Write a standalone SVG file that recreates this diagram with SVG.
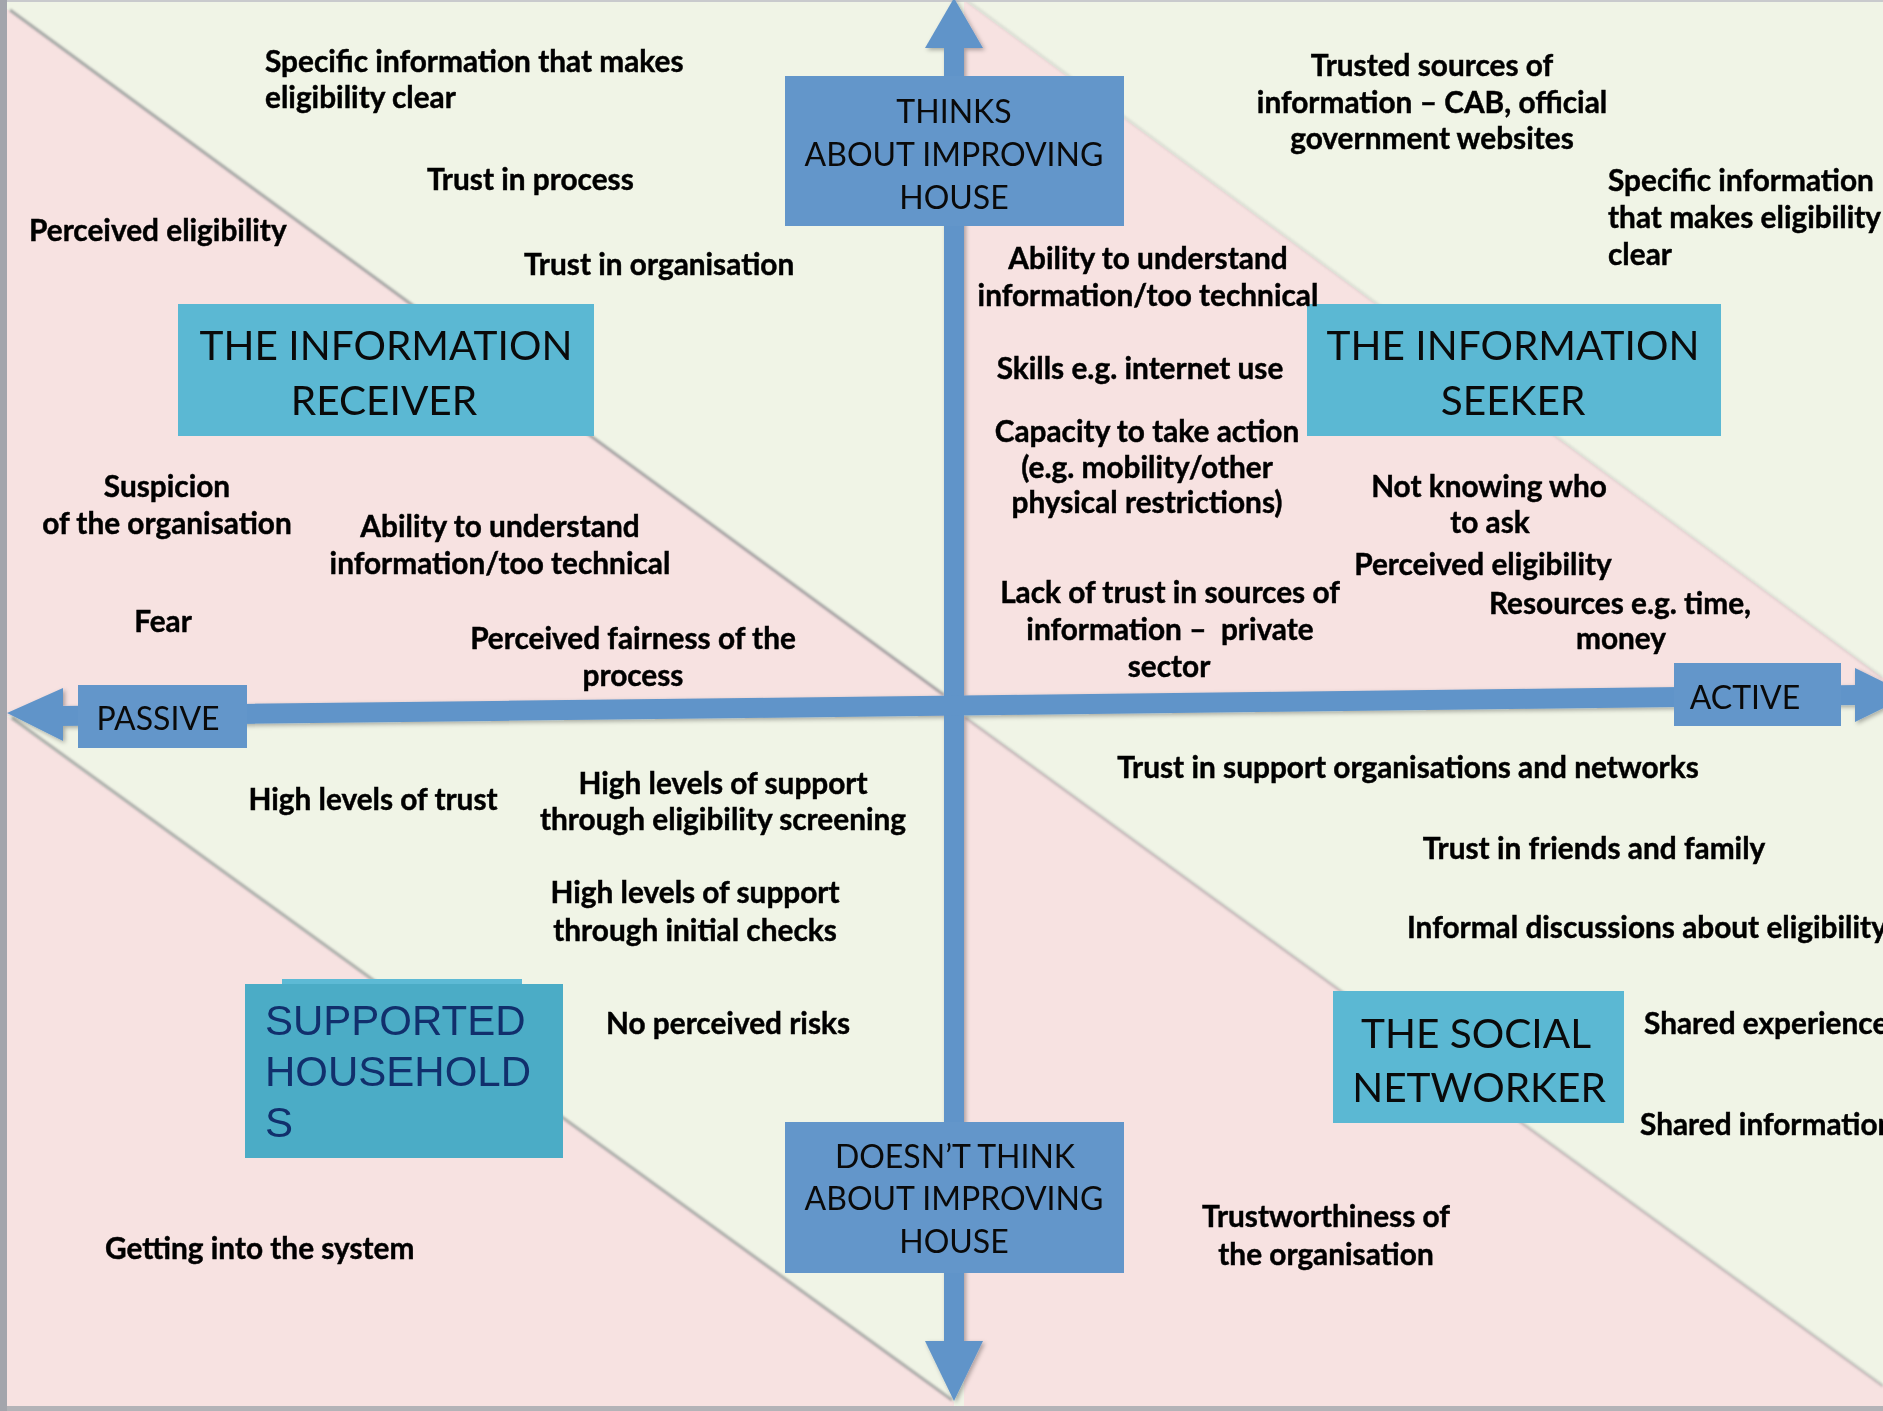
<svg xmlns="http://www.w3.org/2000/svg" width="1883" height="1411" viewBox="0 0 1883 1411">
  <defs>
    <style>
      .bg-cream { fill: #F0F4E6; }
      .bg-pink { fill: #F7E2E1; }
      .diag { stroke: #8E8E90; stroke-width: 3; fill: none; }
      .axis { fill: #6094C9; stroke: none; }
      .axis-line { stroke: #6094C9; stroke-width: 20; fill: none; }
      .box-blue { fill: #6396CA; }
      .box-teal { fill: #5BB8D3; }
      .box-teal2 { fill: #4BACC6; }
      .box-teal3 { fill: #5DBAD5; }
      .lbl { font-family: Lato, "Liberation Sans", sans-serif; font-weight: 700; font-size: 29.8px; fill: #000; stroke: #000; stroke-width: 0.45px; }
      .c { text-anchor: middle; }
      .axis-title { font-family: Lato, "Liberation Sans", sans-serif; font-size: 32px; fill: #0A0A0A; text-anchor: middle; }
      .persona { font-family: Lato, "Liberation Sans", sans-serif; font-size: 40.6px; fill: #0A0A0A; text-anchor: middle; }
      .supported { font-family: "Liberation Sans", Arial, sans-serif; font-size: 42px; fill: #112F6C; }
    </style>
    <filter id="shadow" x="-5%" y="-5%" width="110%" height="110%">
      <feDropShadow dx="2" dy="2" stdDeviation="2" flood-color="#000" flood-opacity="0.3"/>
    </filter>
    <filter id="soft" x="-5%" y="-5%" width="110%" height="110%">
      <feGaussianBlur stdDeviation="0.8"/>
    </filter>
  </defs>

  <!-- background -->
  <g id="background">
    <rect x="0" y="0" width="1883" height="1411" class="bg-cream"/>
    <polygon class="bg-pink" points="7,9 946,696 946,716 7,716"/>
    <polygon class="bg-pink" points="964,0 1883,678 1883,702 964,710"/>
    <polygon class="bg-pink" points="7,716 954,1402 954,1406 7,1406"/>
    <polygon class="bg-pink" points="964,716 1883,1386 1883,1406 964,1406"/>
    <g filter="url(#soft)">
      <line class="diag" x1="10" y1="10" x2="944" y2="695" opacity="0.75"/>
      <line class="diag" x1="966" y1="0" x2="1883" y2="678" opacity="0.2"/>
      <line class="diag" x1="12" y1="718" x2="952" y2="1400" opacity="0.7"/>
      <line class="diag" x1="966" y1="718" x2="1883" y2="1386" opacity="0.45"/>
    </g>
    <rect x="0" y="0" width="7" height="1411" fill="#A3A5AC"/>
    <rect x="7" y="0" width="1876" height="2" fill="#C9CACD"/>
    <rect x="7" y="1406" width="1876" height="5" fill="#B3B3B7"/>
  </g>

  <!-- connectors: axes -->
  <g id="connectors" filter="url(#shadow)">
    <line class="axis-line" x1="954" y1="40" x2="954" y2="1345"/>
    <polygon class="axis" points="954,-2 983,48 925,48"/>
    <polygon class="axis" points="925,1341 983,1341 954,1401"/>
    <line class="axis-line" x1="60" y1="716" x2="1858" y2="695"/>
    <polygon class="axis" points="7,713 63,688 63,741"/>
    <polygon class="axis" points="1855,668 1910,695 1855,722"/>
  </g>

  <!-- axis nodes -->
  <g id="node-thinks">
    <rect class="box-blue" x="785" y="76" width="339" height="150"/>
    <text class="axis-title" x="954" y="123">THINKS</text>
    <text class="axis-title" x="954" y="166">ABOUT IMPROVING</text>
    <text class="axis-title" x="954" y="209">HOUSE</text>
  </g>
  <g id="node-doesnt-think">
    <rect class="box-blue" x="785" y="1122" width="339" height="151"/>
    <text class="axis-title" x="955" y="1168">DOESN’T THINK</text>
    <text class="axis-title" x="954" y="1210">ABOUT IMPROVING</text>
    <text class="axis-title" x="954" y="1253">HOUSE</text>
  </g>
  <g id="node-passive">
    <rect class="box-blue" x="78" y="685" width="169" height="63"/>
    <text class="axis-title" x="158" y="730">PASSIVE</text>
  </g>
  <g id="node-active">
    <rect class="box-blue" x="1674" y="663" width="167" height="63"/>
    <text class="axis-title" x="1745" y="709">ACTIVE</text>
  </g>

  <!-- persona nodes -->
  <g id="node-information-receiver">
    <rect class="box-teal" x="178" y="304" width="416" height="132"/>
    <text class="persona" x="386" y="360">THE INFORMATION</text>
    <text class="persona" x="384" y="415">RECEIVER</text>
  </g>
  <g id="node-information-seeker">
    <rect class="box-teal" x="1307" y="304" width="414" height="132"/>
    <text class="persona" x="1513" y="360">THE INFORMATION</text>
    <text class="persona" x="1513" y="415">SEEKER</text>
  </g>
  <g id="node-supported-households">
    <rect class="box-teal3" x="282" y="979" width="240" height="6"/>
    <rect class="box-teal2" x="245" y="984" width="318" height="174"/>
    <text class="supported" x="265" y="1035">SUPPORTED</text>
    <text class="supported" x="265" y="1086">HOUSEHOLD</text>
    <text class="supported" x="265" y="1137">S</text>
  </g>
  <g id="node-social-networker">
    <rect class="box-teal" x="1333" y="991" width="291" height="132"/>
    <text class="persona" x="1476" y="1048">THE SOCIAL</text>
    <text class="persona" x="1479" y="1102">NETWORKER</text>
  </g>

  <!-- top-left quadrant labels -->
  <g id="labels-top-left" transform="translate(0,2)">
    <text class="lbl" x="265" y="70">Specific information that makes</text>
    <text class="lbl" x="265" y="106">eligibility clear</text>
    <text class="lbl" x="427" y="188">Trust in process</text>
    <text class="lbl" x="29" y="239">Perceived eligibility</text>
    <text class="lbl" x="524" y="273">Trust in organisation</text>
    <text class="lbl c" x="167" y="495">Suspicion</text>
    <text class="lbl c" x="167" y="532">of the organisation</text>
    <text class="lbl c" x="500" y="535">Ability to understand</text>
    <text class="lbl c" x="500" y="572">information/too technical</text>
    <text class="lbl c" x="163" y="630">Fear</text>
    <text class="lbl c" x="633" y="647">Perceived fairness of the</text>
    <text class="lbl c" x="633" y="684">process</text>
  </g>

  <!-- top-right quadrant labels -->
  <g id="labels-top-right" transform="translate(0,2)">
    <text class="lbl c" x="1432" y="74">Trusted sources of</text>
    <text class="lbl c" x="1432" y="111">information – CAB, official</text>
    <text class="lbl c" x="1432" y="147">government websites</text>
    <text class="lbl" x="1608" y="189">Specific information</text>
    <text class="lbl" x="1608" y="226">that makes eligibility</text>
    <text class="lbl" x="1608" y="263">clear</text>
    <text class="lbl c" x="1148" y="267">Ability to understand</text>
    <text class="lbl c" x="1148" y="304">information/too technical</text>
    <text class="lbl c" x="1140" y="377">Skills e.g. internet use</text>
    <text class="lbl c" x="1147" y="440">Capacity to take action</text>
    <text class="lbl c" x="1147" y="476">(e.g. mobility/other</text>
    <text class="lbl c" x="1147" y="511">physical restrictions)</text>
    <text class="lbl c" x="1489" y="495">Not knowing who</text>
    <text class="lbl c" x="1490" y="531">to ask</text>
    <text class="lbl c" x="1483" y="573">Perceived eligibility</text>
    <text class="lbl c" x="1170" y="601">Lack of trust in sources of</text>
    <text class="lbl c" x="1170" y="638" xml:space="preserve">information –  private</text>
    <text class="lbl c" x="1169" y="675">sector</text>
    <text class="lbl c" x="1620" y="612">Resources e.g. time,</text>
    <text class="lbl c" x="1621" y="647">money</text>
  </g>

  <!-- bottom-left quadrant labels -->
  <g id="labels-bottom-left" transform="translate(0,2)">
    <text class="lbl c" x="373" y="808">High levels of trust</text>
    <text class="lbl c" x="723" y="792">High levels of support</text>
    <text class="lbl c" x="723" y="828">through eligibility screening</text>
    <text class="lbl c" x="695" y="901">High levels of support</text>
    <text class="lbl c" x="695" y="939">through initial checks</text>
    <text class="lbl c" x="728" y="1032">No perceived risks</text>
    <text class="lbl" x="105" y="1257">Getting into the system</text>
  </g>

  <!-- bottom-right quadrant labels -->
  <g id="labels-bottom-right" transform="translate(0,2)">
    <text class="lbl c" x="1408" y="776">Trust in support organisations and networks</text>
    <text class="lbl c" x="1594" y="857">Trust in friends and family</text>
    <text class="lbl" x="1407" y="936">Informal discussions about eligibility</text>
    <text class="lbl" x="1644" y="1032">Shared experience</text>
    <text class="lbl" x="1640" y="1133">Shared information</text>
    <text class="lbl c" x="1326" y="1225">Trustworthiness of</text>
    <text class="lbl c" x="1326" y="1263">the organisation</text>
  </g>
</svg>
